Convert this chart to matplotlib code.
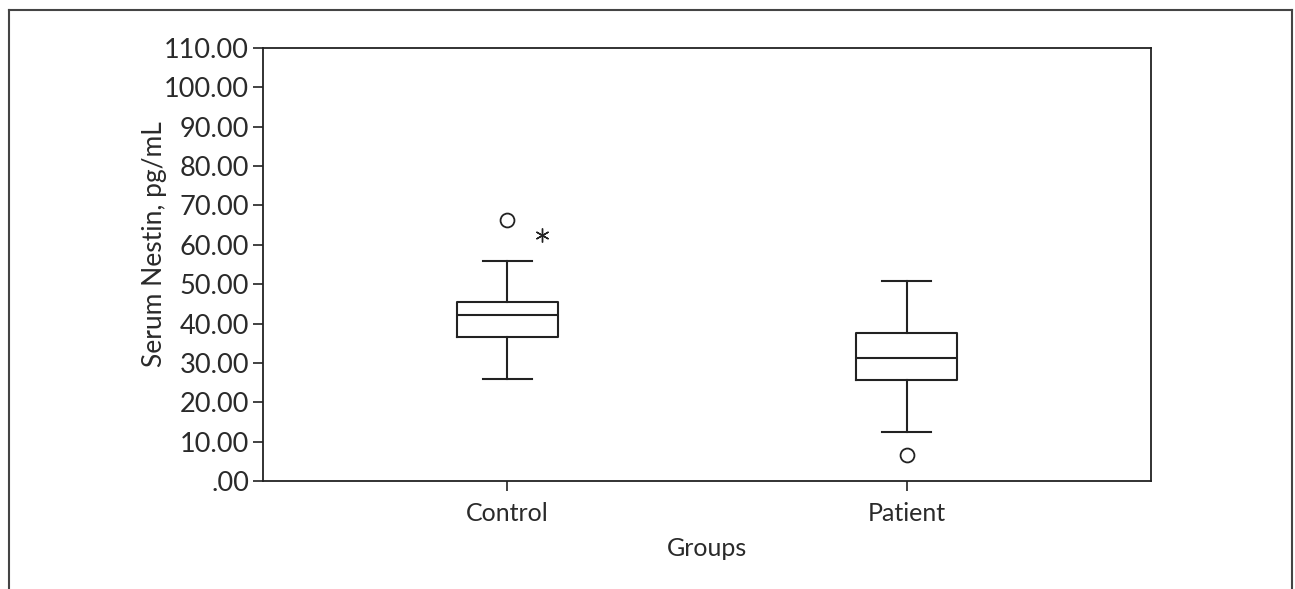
import matplotlib
matplotlib.use('Agg')
from matplotlib import pyplot as plt
from matplotlib.lines import Line2D

groups = ['Control', 'Patient']
whislo = [25.9, 12.4]
q1 = [36.7, 25.7]
med = [42.2, 31.3]
q3 = [45.6, 37.7]
whishi = [55.9, 50.8]
circle_outliers = [[66.3], [6.6]]
star_outliers = [[62.5], []]

yticks = [0, 10, 20, 30, 40, 50, 60, 70, 80, 90, 100, 110]

plt.rcParams['font.family'] = ['Lato', 'DejaVu Sans']
ink = '#222222'
txt = '#2a2a2a'

fig = plt.figure(figsize=(12.95, 5.89), dpi=100)
ax = fig.add_axes([263 / 1295, 1 - 481 / 589, (1151 - 263) / 1295, (481 - 48) / 589])

stats = []
for i, g in enumerate(groups):
    stats.append({'label': g, 'whislo': whislo[i], 'q1': q1[i], 'med': med[i],
                  'q3': q3[i], 'whishi': whishi[i], 'fliers': circle_outliers[i]})

pos = [1, 2]
ax.bxp(stats, positions=pos, widths=0.253, showfliers=True,
       boxprops=dict(color=ink, linewidth=1.5),
       medianprops=dict(color=ink, linewidth=1.5),
       whiskerprops=dict(color=ink, linewidth=1.5),
       capprops=dict(color=ink, linewidth=1.5),
       capwidths=0.123,
       flierprops=dict(marker='o', markerfacecolor='white', markeredgecolor=ink,
                       markersize=10, markeredgewidth=1.3))

# extreme values drawn as asterisks, offset to the right like SPSS
for i, vals in enumerate(star_outliers):
    for v in vals:
        ax.plot(pos[i] + 0.088, v, marker=(6, 2, 0), color=ink, markersize=10,
                markeredgewidth=1.0, linestyle='none')

ax.set_xlim(1.5 - 1.111, 1.5 + 1.111)
ax.set_ylim(0, 110)
ax.set_yticks(yticks)
ax.set_yticklabels(['.00' if t == 0 else f'{t:.2f}' for t in yticks])
ax.set_xticks(pos)
ax.set_xticklabels(groups)

for s in ax.spines.values():
    s.set_color(ink)
    s.set_linewidth(1.3)
ax.tick_params(axis='both', direction='out', length=7, width=1.2, color=ink,
               labelcolor=txt)
ax.tick_params(axis='y', labelsize=19.5, pad=3)
ax.tick_params(axis='x', labelsize=18, pad=8)
ax.set_xlabel('Groups', fontsize=18, color=txt, labelpad=9)
ax.set_ylabel('Serum Nestin, pg/mL', fontsize=19, color=txt, labelpad=-2, y=0.548)

# outer frame around the figure (open at bottom)
x0, x1 = 9 / 1295, 1292 / 1295
yt = 1 - 10 / 589
for xs, ys in [([x0, x0], [0, yt]), ([x0, x1], [yt, yt]), ([x1, x1], [yt, 0])]:
    fig.add_artist(Line2D(xs, ys, color='#444444', linewidth=1.5, transform=fig.transFigure))

plt.savefig('out.png', dpi=100)
